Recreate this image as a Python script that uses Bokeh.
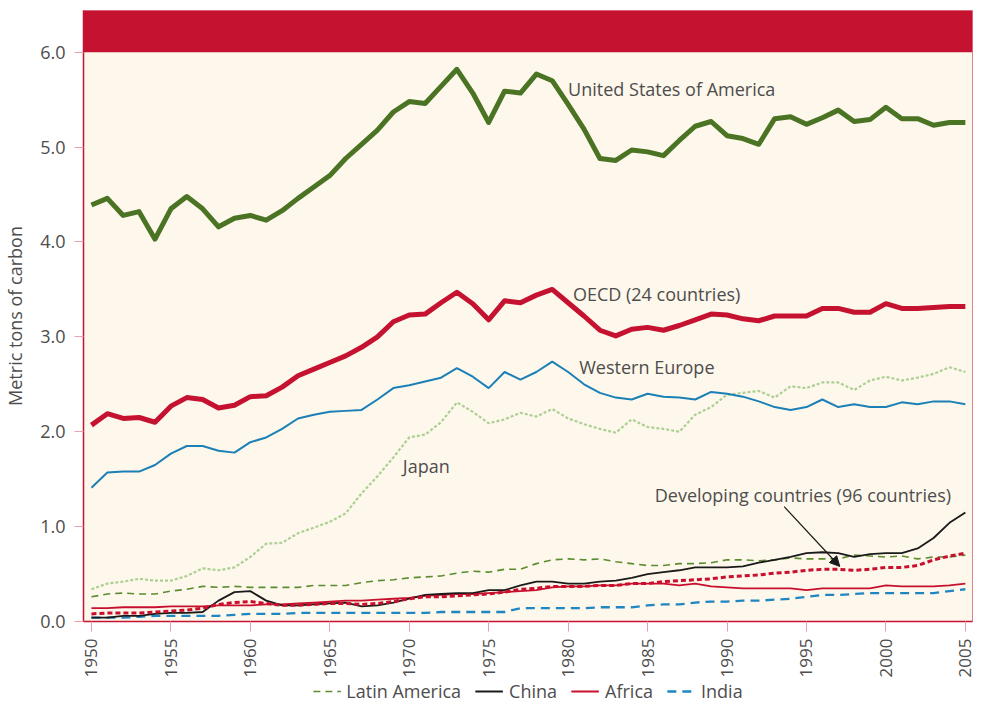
from math import pi
from bokeh.plotting import figure
from bokeh.layouts import column
from bokeh.models import (Range1d, FixedTicker, Legend, LegendItem, BoxAnnotation,
                          Arrow, NormalHead, Label, NumeralTickFormatter)
from bokeh.embed import file_html
from bokeh.resources import INLINE

years = list(range(1950, 2006))

usa = [4.39, 4.46, 4.28, 4.32, 4.03, 4.35, 4.48, 4.35, 4.16, 4.25,
       4.28, 4.23, 4.33, 4.46, 4.58, 4.70, 4.88, 5.03, 5.18, 5.37,
       5.48, 5.46, 5.64, 5.82, 5.57, 5.26, 5.59, 5.57, 5.77, 5.70,
       5.45, 5.19, 4.88, 4.86, 4.97, 4.95, 4.91, 5.07, 5.22, 5.27,
       5.12, 5.09, 5.03, 5.30, 5.32, 5.24, 5.31, 5.39, 5.27, 5.29,
       5.42, 5.30, 5.30, 5.23, 5.26, 5.26]
oecd = [2.07, 2.19, 2.14, 2.15, 2.10, 2.27, 2.36, 2.34, 2.25, 2.28,
        2.37, 2.38, 2.47, 2.59, 2.66, 2.73, 2.80, 2.89, 3.00, 3.16,
        3.23, 3.24, 3.36, 3.47, 3.35, 3.18, 3.38, 3.36, 3.44, 3.50,
        3.36, 3.22, 3.07, 3.01, 3.08, 3.10, 3.07, 3.12, 3.18, 3.24,
        3.23, 3.19, 3.17, 3.22, 3.22, 3.22, 3.30, 3.30, 3.26, 3.26,
        3.35, 3.30, 3.30, 3.31, 3.32, 3.32]
western_europe = [1.41, 1.57, 1.58, 1.58, 1.65, 1.77, 1.85, 1.85, 1.80, 1.78,
                  1.89, 1.94, 2.03, 2.14, 2.18, 2.21, 2.22, 2.23, 2.34, 2.46,
                  2.49, 2.53, 2.57, 2.67, 2.58, 2.46, 2.63, 2.55, 2.63, 2.74,
                  2.63, 2.50, 2.41, 2.36, 2.34, 2.40, 2.37, 2.36, 2.34, 2.42,
                  2.40, 2.37, 2.32, 2.26, 2.23, 2.26, 2.34, 2.26, 2.29, 2.26,
                  2.26, 2.31, 2.29, 2.32, 2.32, 2.29]
japan = [0.34, 0.40, 0.42, 0.45, 0.43, 0.43, 0.48, 0.56, 0.54, 0.57,
         0.68, 0.82, 0.83, 0.93, 0.99, 1.05, 1.14, 1.35, 1.53, 1.73,
         1.94, 1.97, 2.10, 2.31, 2.21, 2.09, 2.13, 2.20, 2.16, 2.24,
         2.14, 2.08, 2.03, 1.99, 2.13, 2.05, 2.03, 2.00, 2.18, 2.26,
         2.39, 2.41, 2.43, 2.36, 2.48, 2.46, 2.52, 2.52, 2.44, 2.54,
         2.58, 2.54, 2.57, 2.61, 2.68, 2.63]
latin_america = [0.26, 0.29, 0.30, 0.29, 0.29, 0.32, 0.34, 0.37, 0.36, 0.37,
                 0.36, 0.36, 0.36, 0.36, 0.38, 0.38, 0.38, 0.41, 0.43, 0.44,
                 0.46, 0.47, 0.48, 0.51, 0.53, 0.52, 0.55, 0.55, 0.61, 0.65,
                 0.66, 0.65, 0.66, 0.63, 0.61, 0.59, 0.59, 0.61, 0.61, 0.62,
                 0.65, 0.65, 0.64, 0.65, 0.67, 0.66, 0.66, 0.66, 0.70, 0.69,
                 0.68, 0.69, 0.66, 0.68, 0.68, 0.70]
china = [0.04, 0.04, 0.06, 0.06, 0.08, 0.09, 0.09, 0.10, 0.22, 0.31,
         0.32, 0.22, 0.17, 0.17, 0.18, 0.19, 0.20, 0.16, 0.17, 0.20,
         0.24, 0.28, 0.29, 0.30, 0.30, 0.33, 0.33, 0.38, 0.42, 0.42,
         0.40, 0.40, 0.42, 0.43, 0.46, 0.50, 0.52, 0.54, 0.57, 0.57,
         0.57, 0.58, 0.62, 0.65, 0.68, 0.72, 0.73, 0.72, 0.68, 0.71,
         0.72, 0.72, 0.77, 0.88, 1.04, 1.15]
africa = [0.14, 0.14, 0.15, 0.15, 0.15, 0.16, 0.16, 0.16, 0.17, 0.17,
          0.17, 0.18, 0.18, 0.19, 0.20, 0.21, 0.22, 0.22, 0.23, 0.24,
          0.25, 0.27, 0.28, 0.29, 0.29, 0.30, 0.31, 0.32, 0.33, 0.36,
          0.37, 0.37, 0.38, 0.38, 0.40, 0.40, 0.40, 0.38, 0.40, 0.37,
          0.36, 0.35, 0.35, 0.35, 0.35, 0.33, 0.35, 0.35, 0.35, 0.35,
          0.38, 0.37, 0.37, 0.37, 0.38, 0.40]
india = [0.04, 0.04, 0.04, 0.05, 0.06, 0.06, 0.06, 0.06, 0.06, 0.07,
         0.08, 0.08, 0.08, 0.09, 0.09, 0.09, 0.09, 0.09, 0.09, 0.09,
         0.09, 0.09, 0.10, 0.10, 0.10, 0.10, 0.10, 0.14, 0.14, 0.14,
         0.14, 0.14, 0.15, 0.15, 0.15, 0.17, 0.18, 0.18, 0.20, 0.21,
         0.21, 0.22, 0.22, 0.23, 0.24, 0.26, 0.28, 0.28, 0.29, 0.30,
         0.30, 0.30, 0.30, 0.30, 0.32, 0.34]
developing = [0.08, 0.09, 0.09, 0.09, 0.10, 0.11, 0.12, 0.14, 0.18, 0.20,
              0.21, 0.19, 0.17, 0.17, 0.18, 0.19, 0.19, 0.18, 0.19, 0.21,
              0.24, 0.26, 0.26, 0.27, 0.28, 0.29, 0.31, 0.34, 0.35, 0.37,
              0.37, 0.37, 0.38, 0.38, 0.40, 0.40, 0.42, 0.43, 0.44, 0.45,
              0.47, 0.48, 0.49, 0.51, 0.52, 0.54, 0.55, 0.55, 0.54, 0.55,
              0.57, 0.57, 0.59, 0.65, 0.69, 0.72]

x_ticks = [1950, 1955, 1960, 1965, 1970, 1975, 1980, 1985, 1990, 1995, 2000, 2005]
y_ticks = [0, 1, 2, 3, 4, 5, 6]

FONT = "Open Sans"
TXT = "#4d4d4d"
RED = "#c41230"
CREAM = "#fef7eb"

STYLE = {
    "latin":  dict(line_color="#5b8c2f", line_width=1.6, line_dash="7 5"),
    "japan":  dict(line_color="#acd093", line_width=2.2, line_dash="3 2"),
    "india":  dict(line_color="#1f86c2", line_width=2.3, line_dash="9 6"),
    "africa": dict(line_color="#c8102e", line_width=1.8),
    "china":  dict(line_color="#1a1a1a", line_width=1.8),
    "dev":    dict(line_color="#c8102e", line_width=3, line_dash="5 3"),
    "we":     dict(line_color="#1a80b6", line_width=2),
    "oecd":   dict(line_color=RED, line_width=5, line_join="round"),
    "usa":    dict(line_color="#4b7324", line_width=5, line_join="round"),
}

LEFT, RIGHT = 82, 7

p = figure(width=979, height=680, x_range=Range1d(1949.5, 2005.45), y_range=Range1d(0, 6.44),
           output_backend="svg", toolbar_location=None,
           min_border_left=LEFT, min_border_right=RIGHT, min_border_top=10, min_border_bottom=56,
           background_fill_color=CREAM, border_fill_color="white")
p.outline_line_color = "#e0808c"
p.outline_line_width = 1
p.xgrid.visible = False
p.ygrid.visible = False

# red header band above 6.0
p.add_layout(BoxAnnotation(bottom=6.0, fill_color=RED, fill_alpha=1.0, line_color=None, level="underlay"))

# axes
p.yaxis.ticker = FixedTicker(ticks=y_ticks)
p.yaxis.formatter = NumeralTickFormatter(format="0.0")
p.yaxis.axis_label = "Metric tons of carbon"
p.yaxis.axis_label_text_font = FONT
p.yaxis.axis_label_text_font_size = "18px"
p.yaxis.axis_label_text_font_style = "normal"
p.yaxis.axis_label_text_color = TXT
p.yaxis.axis_label_standoff = 10
p.yaxis.major_label_text_font = FONT
p.yaxis.major_label_text_font_size = "18px"
p.yaxis.major_label_text_color = TXT
p.yaxis.major_label_standoff = 9
p.yaxis.major_tick_out = 9
p.yaxis.major_tick_in = 0
p.yaxis.major_tick_line_color = "#eaa0a8"
p.yaxis.minor_tick_line_color = None
p.yaxis.axis_line_color = RED
p.yaxis.axis_line_width = 1.5

p.xaxis.ticker = FixedTicker(ticks=x_ticks)
p.xaxis.major_label_orientation = pi / 2
p.xaxis.major_label_text_font = FONT
p.xaxis.major_label_text_font_size = "17px"
p.xaxis.major_label_text_color = TXT
p.xaxis.major_label_standoff = 7
p.xaxis.major_tick_out = 10
p.xaxis.major_tick_in = 0
p.xaxis.major_tick_line_color = "#eaa0a8"
p.xaxis.minor_tick_line_color = None
p.xaxis.axis_line_color = RED
p.xaxis.axis_line_width = 1.5

# series
p.line(years, latin_america, **STYLE["latin"])
p.line(years, japan, **STYLE["japan"])
p.line(years, india, **STYLE["india"])
p.line(years, africa, **STYLE["africa"])
p.line(years, china, **STYLE["china"])
p.line(years, developing, **STYLE["dev"])
p.line(years, western_europe, **STYLE["we"])
p.line(years, oecd, **STYLE["oecd"])
p.line(years, usa, **STYLE["usa"])

# labels
def lab(x, y, t):
    p.add_layout(Label(x=x, y=y, text=t, text_font=FONT, text_font_size="18px",
                       text_color=TXT, text_baseline="middle", text_align="left"))

lab(1980.0, 5.61, "United States of America")
lab(1980.3, 3.45, "OECD (24 countries)")
lab(1980.7, 2.68, "Western Europe")
lab(1969.6, 1.64, "Japan")
lab(1985.45, 1.33, "Developing countries (96 countries)")

p.add_layout(Arrow(x_start=1993.6, y_start=1.21, x_end=1997.1, y_end=0.58,
                   line_color="#1a1a1a", line_width=1.2,
                   end=NormalHead(size=10, fill_color="#1a1a1a", line_color="#1a1a1a")))

# legend strip below the chart (series drawn off-range so only the legend shows)
lg = figure(width=979, height=21, output_backend="svg", toolbar_location=None,
            x_range=Range1d(0, 1), y_range=Range1d(0, 1),
            x_axis_location=None, y_axis_location=None,
            min_border_left=LEFT, min_border_right=RIGHT, min_border_top=0, min_border_bottom=0,
            background_fill_color="white", border_fill_color="white")
lg.outline_line_color = None
lg.xgrid.visible = False
lg.ygrid.visible = False
l_latin = lg.line(years, latin_america, **STYLE["latin"])
l_china = lg.line(years, china, **STYLE["china"])
l_africa = lg.line(years, africa, **STYLE["africa"])
l_india = lg.line(years, india, **STYLE["india"])
legend = Legend(items=[LegendItem(label="Latin America", renderers=[l_latin]),
                       LegendItem(label="China", renderers=[l_china]),
                       LegendItem(label="Africa", renderers=[l_africa]),
                       LegendItem(label="India", renderers=[l_india])],
                orientation="horizontal", location="center",
                border_line_color=None, background_fill_alpha=0,
                label_text_font=FONT, label_text_font_size="18px", label_text_color=TXT,
                glyph_width=28, glyph_height=18, spacing=14, label_standoff=6,
                margin=0, padding=0)
lg.add_layout(legend)

open("out.html", "w").write(file_html(column(p, lg, spacing=0), INLINE))
